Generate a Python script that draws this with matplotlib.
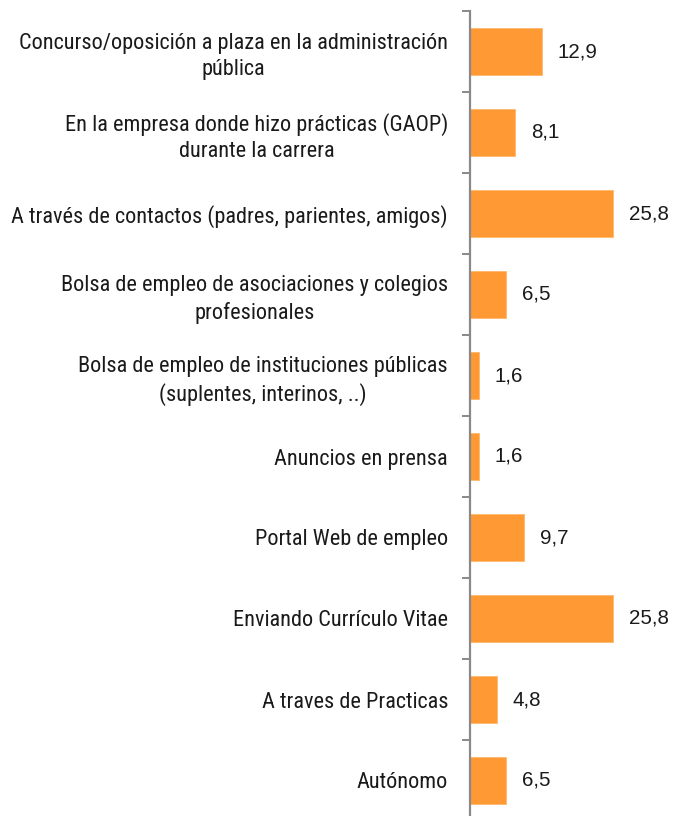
import numpy as np
import matplotlib
matplotlib.use("Agg")
import matplotlib.pyplot as plt

categorias = [
    "Concurso/oposición a plaza en la administración\npública",
    "En la empresa donde hizo prácticas (GAOP)\ndurante la carrera",
    "A través de contactos (padres, parientes, amigos)",
    "Bolsa de empleo de asociaciones y colegios\nprofesionales",
    "Bolsa de empleo de instituciones públicas\n(suplentes, interinos, ..)",
    "Anuncios en prensa",
    "Portal Web de empleo",
    "Enviando Currículo Vitae",
    "A traves de Practicas",
    "Autónomo",
]
valores = [12.9, 8.1, 25.8, 6.5, 1.6, 1.6, 9.7, 25.8, 4.8, 6.5]

plt.rcParams['font.family'] = ['Liberation Sans', 'DejaVu Sans']

naranja = "#FF9933"
gris = "#898989"

fig = plt.figure(figsize=(6.75, 8.16), dpi=100)
ax = fig.add_axes([470 / 675, -5 / 816, 1 - 470 / 675, 810 / 816])

y = np.arange(len(categorias))
ax.barh(y, valores, height=0.59, color=naranja, edgecolor="#FFB770", linewidth=0.6)
ax.set_ylim(len(categorias) - 0.5, -0.5)
ax.set_xlim(0, 36.9)

# etiquetas de valor con coma decimal
for yi, v in zip(y, valores):
    ax.text(v + 2.9, yi, f"{v:.1f}".replace(".", ","), va="center", ha="left",
            fontsize=14.8, color="#1a1a1a")

ax.set_yticks(y)
ax.set_yticklabels(categorias, fontsize=16, family=['Roboto Condensed', 'Liberation Sans'],
                   multialignment="center", color="#1a1a1a", linespacing=1.32)
ax.tick_params(axis="y", which="major", length=0, pad=15.8)
ax.set_yticks(np.arange(len(categorias) + 1) - 0.5, minor=True)
ax.tick_params(axis="y", which="minor", length=5.5, width=1.4, color=gris, direction="out")
ax.set_xticks([])

for s in ["top", "right", "bottom"]:
    ax.spines[s].set_visible(False)
ax.spines["left"].set_color(gris)
ax.spines["left"].set_linewidth(1.6)

fig.savefig("out.png", dpi=100)
